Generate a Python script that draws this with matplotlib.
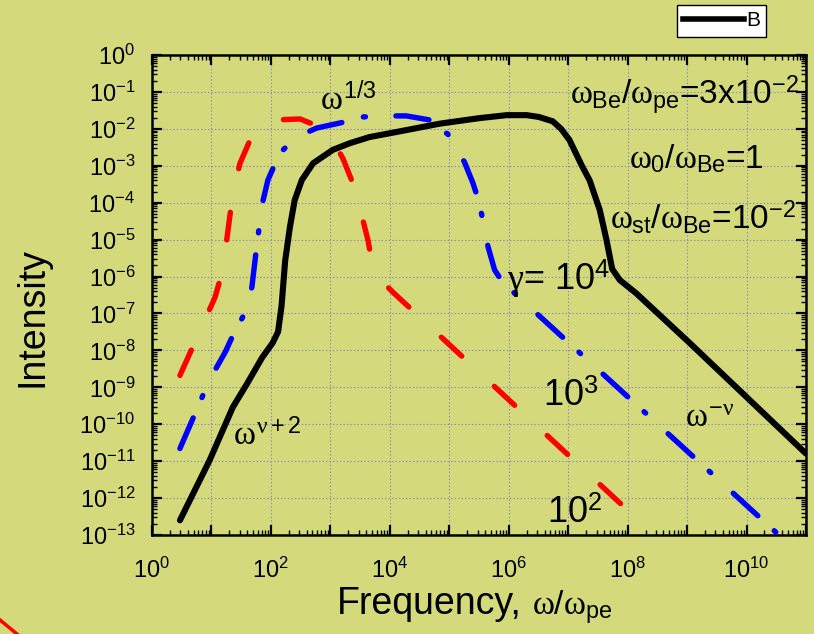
import matplotlib

matplotlib.use("Agg")
import matplotlib.pyplot as plt
import numpy as np
from matplotlib.lines import Line2D
from matplotlib.ticker import FuncFormatter, LogLocator, NullFormatter

# spectra: frequency in units of w_pe, intensity arbitrary
black_freq = [2.95, 9.3, 22.9, 39.8, 70.8, 107, 132, 151, 174, 209, 251, 331, 513,
              1100, 2140, 4570, 1.0e4, 6.9e4, 1.0e5, 3.2e5, 9.3e5, 2.0e6, 3.2e6,
              5.5e6, 7.6e6, 1.05e7, 1.7e7, 2.3e7, 3.4e7, 4.4e7, 5.5e7, 7.4e7,
              1.4e8, 1.1e9, 1.0e11]
black_int = [2.5e-13, 1.05e-11, 2.9e-10, 1.26e-9, 6.3e-9, 1.6e-8, 3.2e-8, 1.6e-7,
             2.75e-6, 2.2e-5, 1.17e-4, 4.1e-4, 1.17e-3, 2.7e-3, 4.1e-3, 6.0e-3,
             7.6e-3, 1.38e-2, 1.5e-2, 1.95e-2, 2.35e-2, 2.35e-2, 2.1e-2, 1.6e-2,
             1.0e-2, 5.0e-3, 1.0e-3, 4.0e-4, 6.3e-5, 1.0e-5, 1.6e-6, 8.0e-7,
             3.5e-7, 1.6e-8, 1.6e-11]

red_freq = [2.95, 11.5, 15.5, 22.9, 30.2, 44.7, 79, 126, 309, 562, 977, 1620,
            2570, 4270, 5130, 7080, 1.12e4, 1.0e8]
red_int = [2.1e-9, 2.75e-7, 1.5e-6, 1.8e-4, 1.17e-3, 5.0e-3, 1.4e-2, 1.75e-2,
           1.85e-2, 1.26e-2, 6.8e-3, 1.6e-3, 2.5e-4, 1.0e-5, 2.0e-6, 8.0e-7,
           3.8e-7, 4.7e-13]

blue_freq = [2.95, 4.9, 9.3, 17, 24.5, 36.3, 47.9, 57.5, 66, 74, 89, 141, 269,
             589, 1620, 3550, 6760, 1.9e4, 4.7e4, 9.5e4, 1.8e5, 2.5e5, 3.2e5,
             3.8e5, 4.5e5, 5.8e5, 7.9e5, 1.26e6, 3.5e10]
blue_int = [2.2e-11, 1.45e-10, 1.6e-9, 8.9e-9, 3.2e-8, 1.0e-7, 5.2e-7, 6.3e-6,
            3.4e-5, 1.17e-4, 4.1e-4, 2.2e-3, 6.0e-3, 1.05e-2, 1.5e-2, 2.1e-2,
            2.24e-2, 2.24e-2, 1.74e-2, 7.1e-3, 1.26e-3, 3.4e-4, 1.0e-4, 2.5e-5,
            6.3e-6, 1.5e-6, 7.0e-7, 3.5e-7, 1.0e-13]

BG = "#d4da7c"

plt.rcParams.update({
    "font.family": "Liberation Sans",
    "mathtext.fontset": "custom",
    "mathtext.rm": "Liberation Sans",
    "mathtext.sf": "Liberation Sans",
    "mathtext.it": "Liberation Serif",
    "mathtext.bf": "Liberation Sans:bold",
    "lines.scale_dashes": False,
})

fig = plt.figure(figsize=(8.14, 6.34), dpi=100, facecolor=BG)
ax = fig.add_axes([0.18673, 0.15615, 0.80344, 0.75710], facecolor=BG)

ax.plot(red_freq, red_int, color="red", lw=3.9, dashes=(20, 32),
        dash_capstyle="round", solid_capstyle="round", zorder=3)
ax.plot(blue_freq, blue_int, color="blue", lw=3.9, dashes=(24, 16, 1.5, 22),
        dash_capstyle="round", solid_capstyle="round", zorder=3)
ax.plot(black_freq, black_int, color="black", lw=4.4,
        solid_capstyle="round", zorder=4)

ax.set_xscale("log")
ax.set_yscale("log")
ax.set_xlim(1, 1e11)
ax.set_ylim(1e-13, 1)

ax.xaxis.set_major_locator(LogLocator(base=10, numticks=30))
ax.yaxis.set_major_locator(LogLocator(base=10, numticks=30))
ax.xaxis.set_minor_locator(LogLocator(base=10, subs=np.arange(2, 10), numticks=30))
ax.yaxis.set_minor_locator(LogLocator(base=10, subs=np.arange(2, 10), numticks=30))
ax.xaxis.set_minor_formatter(NullFormatter())
ax.yaxis.set_minor_formatter(NullFormatter())


def even_decades(val, pos):
    exp = int(round(np.log10(val)))
    return r"$\mathregular{10^{%d}}$" % exp if exp % 2 == 0 else ""


ax.xaxis.set_major_formatter(FuncFormatter(even_decades))
ax.yaxis.set_major_formatter(
    FuncFormatter(lambda v, p: r"$\mathregular{10^{%d}}$" % int(round(np.log10(v)))))

ax.tick_params(which="both", direction="in", top=True, right=True,
               labelsize=17, color="black")
ax.tick_params(which="major", length=7, width=1.6)
ax.tick_params(which="minor", length=3.6, width=1.0)
ax.tick_params(axis="x", which="major", pad=16)
ax.tick_params(axis="y", which="major", pad=12)
for sp in ax.spines.values():
    sp.set_linewidth(1.8)

ax.grid(True, which="major", color="#8c8cb4", linestyle=(0, (1, 1.5)), lw=0.8)
ax.set_axisbelow(True)

# labels of the three curves and the asymptotic slopes
ann = dict(ha="left", va="baseline", fontsize=24)
ax.text(660, 3.2e-2, r"$\omega^{1/3}$", **ann)
ax.text(23, 2.7e-11, r"$\omega^{\nu+2}$", **ann)
ax.text(9.1e8, 8.3e-11, r"$\omega^{-\nu}$", **ann)
ax.text(1.07e7, 5.0e-2, r"$\omega_{\rm Be}/\omega_{\rm pe}$=3x10$^{-2}$", **ann)
ax.text(1.07e8, 8.7e-4, r"$\omega_0/\omega_{\rm Be}$=1", **ann)
ax.text(5.0e7, 2.0e-5, r"$\omega_{\rm st}/\omega_{\rm Be}$=10$^{-2}$", **ann)
lab = dict(ha="left", va="baseline", fontsize=26)
ax.text(9.5e5, 4.3e-7, r"$\gamma$= 10$^4$", **lab)
ax.text(3.7e6, 3.2e-10, r"10$^3$", **lab)
ax.text(4.4e6, 2.1e-13, r"10$^2$", **lab)

fig.text(33 / 814, 1 - 317 / 634, "Intensity", rotation=90, ha="center",
         va="center", fontsize=27)
fig.text(337 / 814, 1 - 614 / 634, "Frequency,", ha="left", va="baseline",
         fontsize=27)
fig.text(532 / 814, 1 - 614 / 634, r"$\omega/\omega_{\rm pe}$", ha="left",
         va="baseline", fontsize=24)

handle = Line2D([], [], color="black", lw=4.0)
fig.legend([handle], ["B"], loc="upper right",
           bbox_to_anchor=(766 / 814, 1 - 5 / 634), fontsize=15,
           frameon=True, fancybox=False, edgecolor="black", facecolor="white",
           framealpha=1, handlelength=2.9, handletextpad=0.1, borderpad=0.3,
           borderaxespad=0)

fig.add_artist(Line2D([0, 17 / 814], [14 / 634, 0], transform=fig.transFigure,
                      color="red", lw=2.5))

fig.savefig("out.png", dpi=100, facecolor=BG)
